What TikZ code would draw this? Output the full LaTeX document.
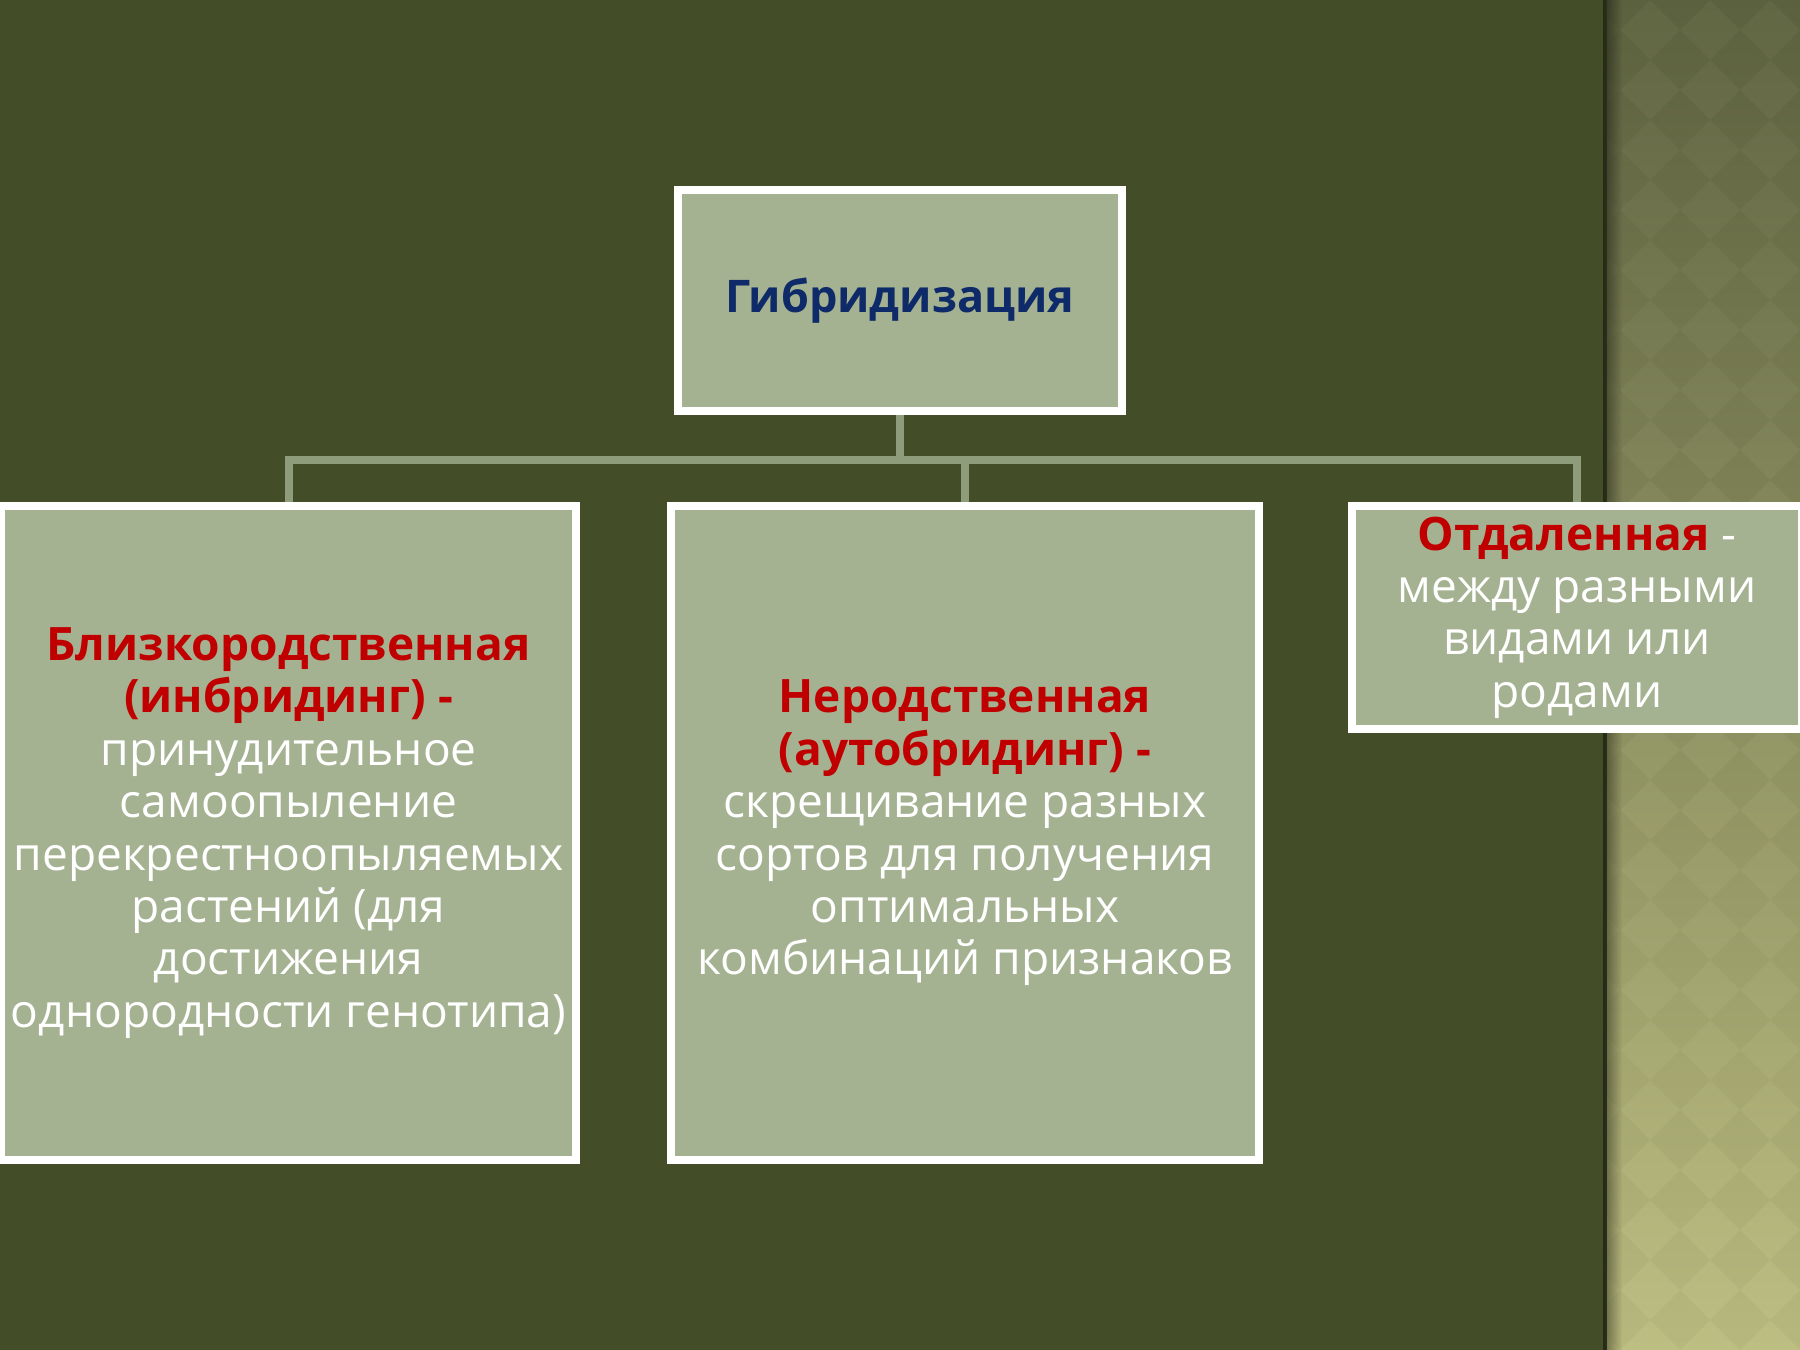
\documentclass[tikz,border=0pt]{standalone}
\usepackage{fontspec}
\setmainfont{Open Sans}
\usetikzlibrary{fadings}
\definecolor{bgolive}{HTML}{434D27}
\definecolor{boxfill}{HTML}{A5B291}
\definecolor{linkcol}{HTML}{8E9C7C}
\definecolor{headred}{HTML}{C00000}
\definecolor{titlenavy}{HTML}{0E2A68}
\definecolor{stripTop}{HTML}{5E6340}
\definecolor{stripBot}{HTML}{BCBD80}
\tikzfading[name=fadeR, left color=transparent!0, right color=transparent!100]
\pgfdeclarelayer{bglayer}
\pgfdeclarelayer{linklayer}
\pgfsetlayers{bglayer,linklayer,main}
\tikzset{
  boxnode/.style={draw=white, line width=0.8mm, fill=boxfill, inner sep=0pt, align=center,
    font=\fontsize{13.1pt}{14.9pt}\selectfont, text=white},
  link/.style={draw=linkcol, line width=0.8mm},
}
\newcommand{\hd}[1]{\textcolor{headred}{\bfseries #1}}
\begin{document}
\begin{tikzpicture}[x=0.1mm,y=-0.1mm]
\useasboundingbox (0,0) rectangle (1800,1350);
\begin{pgfonlayer}{bglayer}
\fill[bgolive] (0,0) rectangle (1800,1350);
% right textured strip
\shade[top color=stripTop, bottom color=stripBot] (1607,0) rectangle (1800,1350);
\begin{scope}
  \clip (1607,0) rectangle (1800,1350);
  \foreach \i in {0,...,4}{
    \foreach \j in {0,...,23}{
      \fill[black, opacity=0.025] (1620+60*\i,60*\j-30) -- ++(30,30) -- ++(-30,30) -- ++(-30,-30) -- cycle;
      \fill[white, opacity=0.018] (1650+60*\i,60*\j) -- ++(30,30) -- ++(-30,30) -- ++(-30,-30) -- cycle;
    }
  }
\end{scope}
\fill[black, opacity=0.45, path fading=fadeR] (1603,0) rectangle (1622,1350);
\end{pgfonlayer}

% boxes
\node[boxnode, minimum width=444*0.1mm, minimum height=221*0.1mm,
      font=\fontsize{12.8pt}{15pt}\selectfont\bfseries, text=titlenavy] (top) at (900,300.5) {Гибридизация};

\node[boxnode, minimum width=575*0.1mm, minimum height=654*0.1mm] (left) at (288.5,833)
  {\hd{Близкородственная}\\\hd{(инбридинг) -}\\принудительное\\самоопыление\\перекрестноопыляемых\\растений (для\\достижения\\однородности генотипа)};

\node[boxnode, minimum width=588*0.1mm, minimum height=654*0.1mm] (mid) at (965,833)
  {\hd{Неродственная}\\\hd{(аутобридинг) -}\\скрещивание разных\\сортов для получения\\оптимальных\\комбинаций признаков};

\node[boxnode, minimum width=450*0.1mm, minimum height=223*0.1mm] (right) at (1577,617.5)
  {\hd{Отдаленная} -\\между разными\\видами или\\родами};

% connectors (behind boxes)
\coordinate (bus) at (900,460);
\begin{pgfonlayer}{linklayer}
\draw[link] (top.south) -- (top.south |- bus);
\draw[link] (left.north) -- (left.north |- bus) -- (right.north |- bus) -- (right.north);
\draw[link] (mid.north) -- (mid.north |- bus);
\end{pgfonlayer}
\end{tikzpicture}
\end{document}
